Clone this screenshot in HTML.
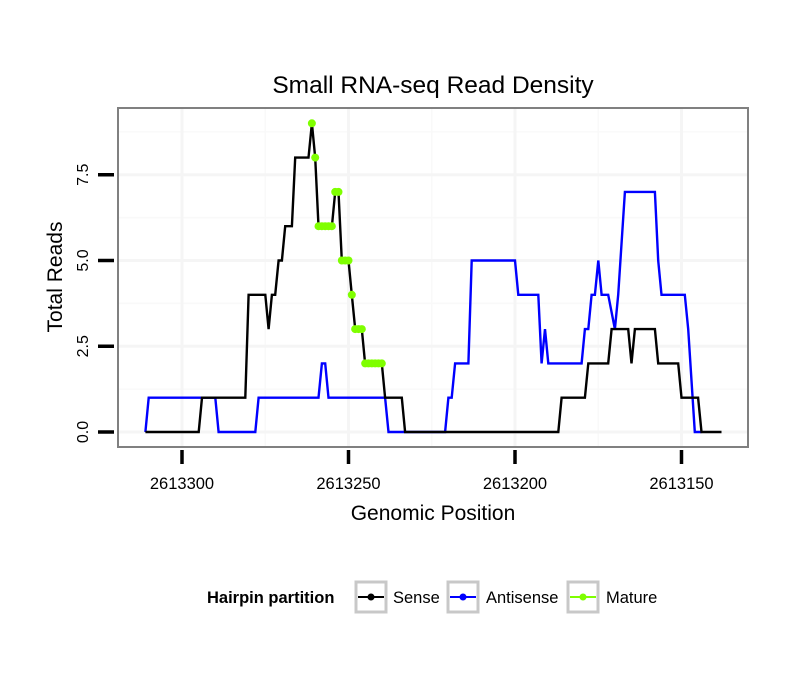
<!DOCTYPE html>
<html><head><meta charset="utf-8"><style>
body{margin:0;background:#fff;}
svg{display:block;font-family:"Liberation Sans",sans-serif;}
</style></head><body>
<svg id="c" width="810" height="690" xmlns="http://www.w3.org/2000/svg">
<rect x="0" y="0" width="810" height="690" fill="#fff"/>
<text x="433" y="93" font-size="24.5" text-anchor="middle">Small RNA-seq Read Density</text>
<g id="grid"></g>
<g id="series"></g>
<rect x="118" y="108" width="630" height="339" fill="none" stroke="#808080" stroke-width="2"/>
<g id="axes"></g>
<text x="433" y="520" font-size="21" text-anchor="middle">Genomic Position</text>
<text transform="translate(62,277) rotate(-90)" font-size="21" text-anchor="middle">Total Reads</text>
<g>
<text x="207" y="603" font-size="16.5" font-weight="bold">Hairpin partition</text>
<g>
<rect x="356" y="582" width="30" height="30" fill="#fff" stroke="#c8c8c8" stroke-width="3"/>
<line x1="358" y1="597" x2="384" y2="597" stroke="#000" stroke-width="2"/><circle cx="371" cy="597" r="3.5" fill="#000"/>
<text x="393" y="603" font-size="16.5">Sense</text></g>
<g>
<rect x="448" y="582" width="30" height="30" fill="#fff" stroke="#c8c8c8" stroke-width="3"/>
<line x1="450" y1="597" x2="476" y2="597" stroke="#0000ff" stroke-width="2"/><circle cx="463" cy="597" r="3.5" fill="#0000ff"/>
<text x="486" y="603" font-size="16.5">Antisense</text></g>
<g>
<rect x="568" y="582" width="30" height="30" fill="#fff" stroke="#c8c8c8" stroke-width="3"/>
<line x1="570" y1="597" x2="596" y2="597" stroke="#7fff00" stroke-width="2"/><circle cx="583" cy="597" r="3.5" fill="#7fff00"/>
<text x="606" y="603" font-size="16.5">Mature</text></g>
</g>
</svg>
<script>
const xTicks=[2613300,2613250,2613200,2613150];
const xTickLabels=["2613300","2613250","2613200","2613150"];
const yTicks=[0,2.5,5,7.5];
const yTickLabels=["0.0","2.5","5.0","7.5"];
const sensePos=[2613311,2613295,2613294,2613281,2613280,2613275,2613274,2613273,2613272,2613271,2613270,2613269,2613267,2613266,2613262,2613261,2613260,2613259,2613255,2613254,2613253,2613252,2613250,2613249,2613248,2613246,2613245,2613240,2613239,2613234,2613233,2613187,2613186,2613179,2613178,2613172,2613171,2613166,2613165,2613164,2613158,2613157,2613151,2613150,2613145,2613144,2613138];
const senseVal=[0,0,1,1,4,4,3,4,4,5,5,6,6,8,8,9,8,6,6,7,7,5,5,4,3,3,2,2,1,1,0,0,1,1,2,2,3,3,2,3,3,2,2,1,1,0,0];
const antiPos=[2613311,2613310,2613290,2613289,2613278,2613277,2613259,2613258,2613257,2613256,2613239,2613238,2613221,2613220,2613219,2613218,2613214,2613213,2613200,2613199,2613193,2613192,2613191,2613190,2613180,2613179,2613178,2613177,2613176,2613175,2613174,2613172,2613170,2613169,2613167,2613158,2613157,2613156,2613149,2613148,2613146,2613144];
const antiVal=[0,1,1,0,0,1,1,2,2,1,1,0,0,1,1,2,2,5,5,4,4,2,3,2,2,3,3,4,4,5,4,4,3,4,7,7,5,4,4,3,0,0];
const maturePos=[2613261,2613260,2613259,2613258,2613257,2613256,2613255,2613254,2613253,2613252,2613251,2613250,2613249,2613248,2613247,2613246,2613245,2613244,2613243,2613242,2613241,2613240];
const matureVal=[9,8,6,6,6,6,6,7,7,5,5,5,4,3,3,3,2,2,2,2,2,2];

const NS="http://www.w3.org/2000/svg";
const X=p=>182+(2613300-p)*3.33;
const Y=v=>432-v*34.3;
function mk(t,a,parent){const e=document.createElementNS(NS,t);for(const k in a)e.setAttribute(k,a[k]);parent.appendChild(e);return e;}
const grid=document.getElementById('grid'),axes=document.getElementById('axes'),series=document.getElementById('series');
for(let i=0;i<xTicks.length+1;i++){const p=xTicks[0]+25-i*50;const x=X(p);if(x>118&&x<748){const l=mk('line',{x1:x,y1:108,x2:x,y2:447,stroke:'#f9f9f9','stroke-width':1.5},grid);}}
for(let i=0;i<5;i++){const y=Y(1.25+i*2.5);if(y>108){const l=mk('line',{x1:118,y1:y,x2:748,y2:y,stroke:'#f9f9f9','stroke-width':1.5},grid);}}
xTicks.forEach((p,i)=>{const x=X(p);
const g=mk('line',{x1:x,y1:108,x2:x,y2:447,stroke:'#f5f5f5','stroke-width':3},grid);


const t=mk('line',{x1:x,y1:450,x2:x,y2:464,stroke:'#000','stroke-width':3.5},axes);


const tx=mk('text',{x:x,y:489,'font-size':16.5,'text-anchor':'middle'},axes);tx.textContent=xTickLabels[i];

});
yTicks.forEach((v,i)=>{const y=Y(v);
const g=mk('line',{x1:118,y1:y,x2:748,y2:y,stroke:'#f5f5f5','stroke-width':3},grid);


const t=mk('line',{x1:98,y1:y,x2:114,y2:y,stroke:'#000','stroke-width':3.5},axes);


const tx=mk('text',{transform:`translate(88,${y}) rotate(-90)`,'font-size':16,'text-anchor':'middle'},axes);tx.textContent=yTickLabels[i];

});
function line(pos,val,col,name){const d=pos.map((p,i)=>(i?'L':'M')+X(p).toFixed(1)+','+Y(val[i]).toFixed(1)).join('');
const l=mk('path',{d:d,fill:'none',stroke:col,'stroke-width':2.4,'stroke-linejoin':'miter'},series);

}
line(antiPos,antiVal,'#0000ff','antisense-line');
line(sensePos,senseVal,'#000','sense-line');
maturePos.forEach((p,i)=>{const c=mk('circle',{cx:X(p),cy:Y(matureVal[i]),r:4,fill:'#7fff00'},series);

});
</script>
</body></html>
